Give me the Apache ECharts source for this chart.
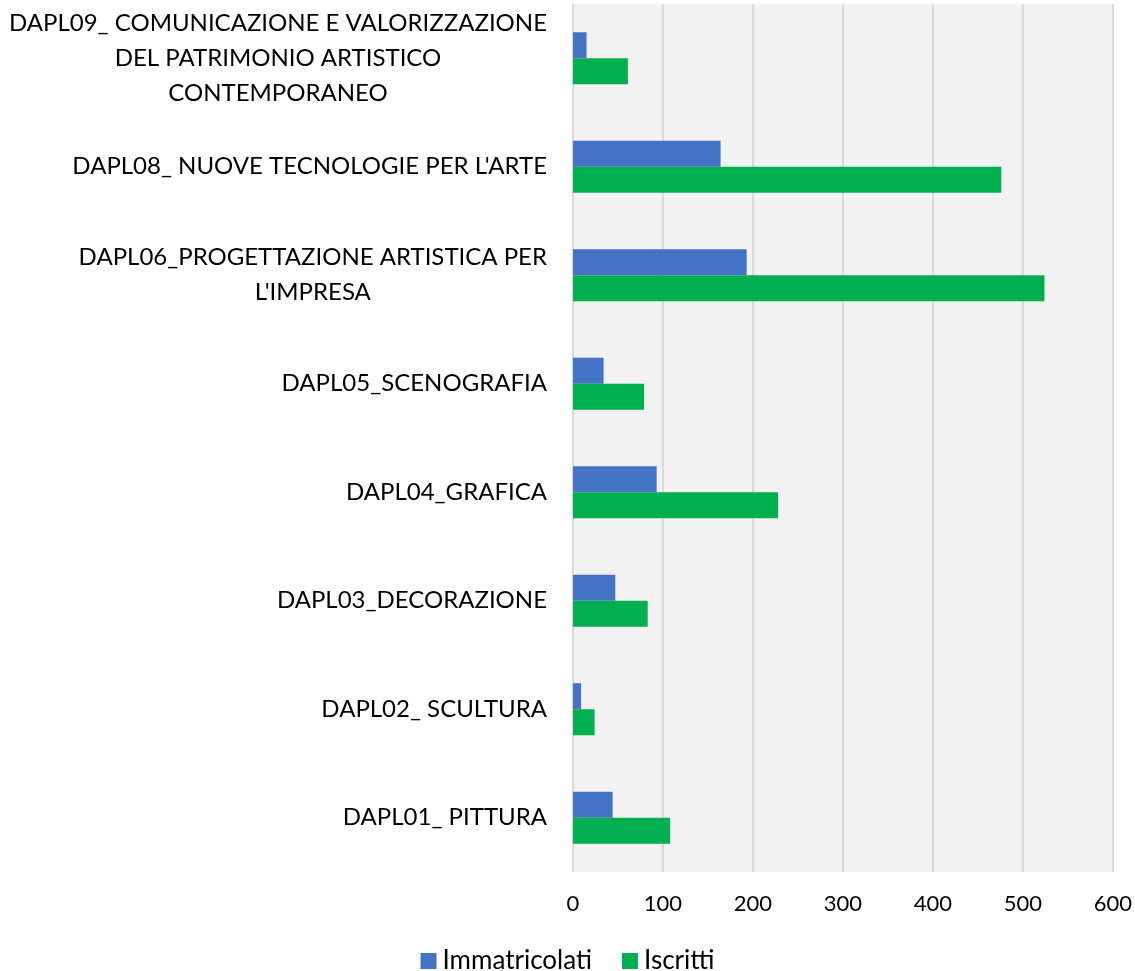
<!DOCTYPE html>
<html>
<head>
<meta charset="utf-8">
<script src="https://cdn.jsdelivr.net/npm/echarts@6/dist/echarts.min.js"></script>
<style>
  html, body { margin: 0; padding: 0; background: #fff; }
  #chart { width: 1135px; height: 971px; }
</style>
</head>
<body>
<div id="chart"></div>
<script>
// categories, top to bottom
const categories = [
  'DAPL09_ COMUNICAZIONE E VALORIZZAZIONE\nDEL PATRIMONIO ARTISTICO\nCONTEMPORANEO',
  "DAPL08_ NUOVE TECNOLOGIE PER L'ARTE",
  "DAPL06_PROGETTAZIONE ARTISTICA PER\nL'IMPRESA",
  'DAPL05_SCENOGRAFIA',
  'DAPL04_GRAFICA',
  'DAPL03_DECORAZIONE',
  'DAPL02_ SCULTURA',
  'DAPL01_ PITTURA'
];
const immatricolati = [15, 164, 193, 34, 93, 47, 9, 44];
const iscritti = [61, 476, 524, 79, 228, 83, 24, 108];
const seriesNames = ['Immatricolati', 'Iscritti'];

const font = 'Lato, "Open Sans", sans-serif';

const chart = echarts.init(document.getElementById('chart'));
chart.setOption({
  animation: false,
  textStyle: { fontFamily: font },
  grid: {
    left: 573, right: 22, top: 4, bottom: 99,
    show: true, backgroundColor: '#F2F2F2', borderWidth: 0
  },
  legend: {
    data: seriesNames,
    top: 943,
    left: 'center',
    icon: 'rect',
    itemWidth: 16,
    itemHeight: 16,
    itemGap: 30,
    textStyle: { fontSize: 26, color: '#000', fontFamily: font, padding: [0, 0, 0, 1] }
  },
  xAxis: {
    type: 'value',
    min: 0, max: 600, interval: 100,
    axisLine: { show: false },
    axisTick: { show: false },
    axisLabel: { fontSize: 22, color: '#000', margin: 21, fontFamily: font },
    splitLine: { show: true, lineStyle: { color: '#D9D9D9', width: 2 } }
  },
  yAxis: {
    type: 'category',
    data: categories,
    inverse: true,
    axisLine: { show: false },
    axisTick: { show: false },
    axisLabel: {
      margin: 26,
      color: '#000',
      formatter: v => v.split('\n').map(l => '{c|' + l + '}').join('\n'),
      rich: {
        c: { align: 'center', fontSize: 24, lineHeight: 35, color: '#000', fontFamily: font }
      }
    }
  },
  series: [
    {
      name: seriesNames[0], type: 'bar', data: immatricolati,
      barWidth: 26, barGap: '0%',
      itemStyle: { color: '#4472C4' }
    },
    {
      name: seriesNames[1], type: 'bar', data: iscritti,
      barWidth: 26, barGap: '0%',
      itemStyle: { color: '#00B050' }
    }
  ]
});
</script>
</body>
</html>
